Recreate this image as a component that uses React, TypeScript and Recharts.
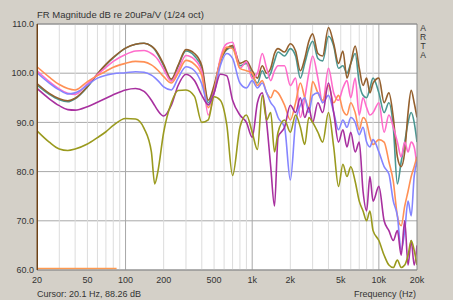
import { LineChart, Line, XAxis, YAxis, CartesianGrid, ReferenceLine } from "recharts";

// frequency grid (Hz)
const freqs = [
  20, 25, 30, 35, 40, 50, 60, 70, 80, 100, 120, 140, 160, 170, 180, 200, 230, 260, 300, 350, 400, 450, 500, 560,
  630, 700, 800, 900, 1000, 1100, 1200, 1300, 1400, 1500, 1600, 1800, 2000, 2200, 2400, 2600, 2800, 3000, 3300,
  3600, 4000, 4400, 4800, 5200, 5600, 6000, 6500, 7000, 7500, 8000, 8500, 9000, 10000, 11000, 12000, 13000,
  14000, 15000, 16000, 17000, 18000, 19000, 20000,
];

const teal = [
  97.6, 95.7, 94.6, 94.2, 94.8, 97.2, 99.8, 101.7, 103.1, 105.1, 105.9, 106.1, 105.5, 104.8, 103.8, 101.5, 98.5,
  101.4, 104.5, 103.5, 101.0, 94.0, 97.0, 102.3, 104.8, 105.3, 101.5, 102.0, 99.5, 98.0, 100.5, 99.0, 100.0, 102.5,
  104.3, 103.5, 105.0, 103.5, 99.0, 102.0, 105.0, 106.5, 103.0, 102.5, 107.5, 105.5, 101.0, 101.5, 100.0, 102.0,
  104.0, 98.0, 95.5, 95.0, 97.0, 99.0, 96.0, 92.0, 94.0, 89.0, 77.5, 82.0, 86.0, 90.0, 92.0, 90.0, 86.0,
];

const brown = [
  97.9, 95.9, 94.8, 94.4, 94.9, 97.3, 99.9, 101.8, 103.2, 105.1, 105.9, 106.1, 105.5, 104.9, 104.0, 101.8, 98.8,
  101.6, 104.8, 104.0, 101.5, 94.5, 97.5, 102.5, 105.0, 105.6, 102.0, 102.5, 100.5, 99.0, 101.5, 100.0, 101.0, 104.0,
  105.0, 104.3, 106.0, 104.5, 100.5, 103.0, 106.5, 108.0, 104.0, 103.5, 109.3, 106.0, 102.0, 104.5, 99.0, 102.0,
  105.5, 101.0, 97.5, 99.0, 96.0, 98.0, 99.0, 94.0, 96.0, 91.0, 83.0, 81.0, 84.0, 92.0, 96.5, 94.0, 91.0,
];

const pink = [
  100.5, 98.3, 96.8, 95.9, 95.7, 97.9, 99.7, 101.2, 102.4, 103.8, 104.5, 104.6, 104.0, 103.5, 102.8, 100.8, 98.4,
  100.6, 103.6, 102.8, 100.3, 91.5, 96.0, 103.0, 106.0, 106.3, 101.0, 102.3, 99.0, 100.0, 104.0, 101.0, 98.5, 100.5,
  101.5, 101.5, 97.5, 99.0, 91.0, 95.0, 100.0, 103.5, 99.0, 94.0, 101.0, 96.0, 94.5, 97.0, 98.5, 95.0, 99.0, 91.5,
  95.0, 93.0, 91.5, 92.0, 94.0, 88.0, 91.5, 89.0, 86.0, 83.0, 86.0, 84.0, 86.0, 85.0, 81.0,
];

const orange = [
  101.3, 99.2, 97.7, 96.9, 96.6, 98.3, 99.5, 100.4, 101.2, 102.0, 102.4, 102.3, 101.7, 101.2, 100.6, 99.3, 98.0,
  100.0, 102.6, 101.8, 99.5, 93.0, 96.5, 102.5, 105.3, 105.0, 101.0, 100.5, 100.0, 97.5, 98.5, 96.0, 95.0, 96.5,
  96.0, 93.5, 90.5, 94.0, 98.0, 95.0, 93.0, 98.3, 96.0, 94.5, 97.5, 94.0, 95.5, 92.5, 91.5, 94.0, 92.0, 88.5, 91.0,
  90.0, 87.0, 85.5, 86.5, 86.0, 82.0, 78.0, 71.0, 69.0, 73.0, 76.0, 79.0, 81.0, 83.0,
];

const blue = [
  100.1, 98.0, 96.6, 95.8, 96.0, 97.6, 99.0, 99.6, 99.9, 100.1, 100.3, 100.2, 99.6, 99.1, 98.5, 97.2, 96.6, 99.0,
  101.3, 100.5, 97.8, 93.5, 96.0, 101.5, 104.0, 103.0, 98.0, 97.0, 98.5, 97.0, 98.0, 96.0, 94.0, 93.0, 91.0, 89.0,
  78.3, 90.0, 93.5, 95.0, 92.0, 95.5, 96.0, 94.0, 95.5, 92.0, 88.5, 90.5, 89.0, 91.0, 90.0, 87.5, 89.0, 86.0, 85.0,
  86.5, 84.0, 81.0, 79.5, 74.0, 71.0, 64.0, 68.0, 74.0, 71.0, 79.0, 82.0,
];

const purple = [
  96.9, 94.8, 93.4, 92.6, 92.5, 93.2, 94.1, 94.9, 95.6, 96.6, 96.9, 96.3, 94.5, 93.4, 92.4, 91.3, 93.5, 97.5, 99.8,
  98.5, 95.5, 93.6, 96.0, 99.8, 99.5, 94.5, 91.5, 90.0, 87.0, 94.0, 96.0, 90.0, 81.0, 73.0, 87.0, 89.0, 93.5, 92.0,
  95.0, 91.0, 93.0, 90.0, 94.0, 92.0, 98.0, 92.0, 86.0, 88.5, 85.0, 88.0, 84.0, 86.0, 76.0, 72.0, 79.0, 74.0, 77.0,
  70.0, 68.0, 66.0, 68.0, 63.0, 70.0, 61.0, 66.0, 61.0, 65.0,
];

const olive = [
  88.3, 86.0, 84.6, 84.3, 84.6, 85.6, 86.9, 88.1, 89.4, 90.8, 90.7, 88.8, 84.0, 77.5, 80.0, 88.0, 94.0, 96.5, 96.6,
  95.3, 90.0, 90.5, 95.2, 94.5, 89.5, 79.2, 89.0, 91.5, 88.0, 84.5, 95.5, 90.5, 92.0, 84.0, 88.0, 90.5, 88.0, 91.5,
  89.0, 85.5, 91.0, 90.0, 88.0, 86.0, 92.0, 85.0, 77.0, 81.5, 79.0, 81.0, 78.0, 74.0, 72.0, 70.0, 72.0, 68.0, 66.0,
  63.0, 61.0, 60.5, 62.0, 60.5, 61.0, 63.0, 66.0, 64.0, 61.0,
];

// orange level marker along the bottom
const markerFreqs = [20, 85];
const markerLevel = [60.3, 60.3];

const xTicks = [20, 50, 100, 200, 500, 1000, 2000, 5000, 10000, 20000];
const yTicks = [60, 70, 80, 90, 100, 110];
const minorGrid = [
  30, 40, 50, 60, 70, 80, 90, 200, 300, 400, 500, 600, 700, 800, 900, 2000, 3000, 4000, 5000, 6000, 7000, 8000,
  9000,
];
const majorGrid = [100, 1000, 10000];

const series = [
  { key: "teal", color: "#4a9792" },
  { key: "brown", color: "#94602e" },
  { key: "pink", color: "#ff6ccb" },
  { key: "orange", color: "#ff9055" },
  { key: "blue", color: "#8585ff" },
  { key: "purple", color: "#a8309f" },
  { key: "olive", color: "#9a9a1e" },
];

const data = freqs.map((f, i) => ({
  f,
  teal: teal[i],
  brown: brown[i],
  pink: pink[i],
  orange: orange[i],
  blue: blue[i],
  purple: purple[i],
  olive: olive[i],
}));

const marker = markerFreqs.map((f, i) => ({ f, v: markerLevel[i] }));

const FONT = "'Liberation Sans', Arial, sans-serif";
const TXT = "#333";

const fmtHz = (v: number) => (v >= 1000 ? `${v / 1000}k` : `${v}`);

export default function App() {
  return (
    <div style={{ position: "absolute", left: 0, top: 0, width: 453, height: 300, background: "#d4d0c8" }}>
      <LineChart width={453} height={300} data={data} margin={{ top: 24, right: 36, bottom: 0, left: 0 }}>
        <CartesianGrid vertical={false} fill="#ffffff" stroke="#a8a8a8" />
        {minorGrid.map((g) => (
          <ReferenceLine key={`mi${g}`} x={g} stroke="#dcdcdc" />
        ))}
        {majorGrid.map((g) => (
          <ReferenceLine key={`ma${g}`} x={g} stroke="#a8a8a8" />
        ))}
        <XAxis
          dataKey="f"
          type="number"
          scale="log"
          domain={[20, 20000]}
          allowDataOverflow
          ticks={xTicks}
          tickFormatter={fmtHz}
          height={30}
          axisLine={false}
          tickLine={false}
          tickSize={1}
          tickMargin={6}
          tick={{ fontSize: 9, fill: TXT, fontFamily: FONT }}
        />
        <YAxis
          type="number"
          domain={[60, 110]}
          allowDataOverflow
          ticks={yTicks}
          tickFormatter={(v: number) => v.toFixed(1)}
          width={37}
          axisLine={false}
          tickLine={false}
          tickSize={1}
          tickMargin={2}
          tick={{ fontSize: 9, fill: TXT, fontFamily: FONT }}
        />
        {series.map((s) => (
          <Line
            key={s.key}
            dataKey={s.key}
            type="monotone"
            stroke={s.color}
            strokeWidth={1.6}
            dot={false}
            isAnimationActive={false}
          />
        ))}
        <Line
          data={marker}
          dataKey="v"
          type="linear"
          stroke="#ff9a50"
          strokeWidth={1.5}
          dot={false}
          isAnimationActive={false}
        />
        <ReferenceLine y={110} stroke="#8a8a8a" />
        <ReferenceLine y={60} stroke="#8a8a8a" />
        <ReferenceLine x={20000} stroke="#8a8a8a" />
        <ReferenceLine x={20.1} stroke="#6e4216" strokeWidth={1.5} />
      </LineChart>
      <svg width={453} height={300} style={{ position: "absolute", left: 0, top: 0, pointerEvents: "none" }}>
        <text x={37} y={18} fontSize={9.5} fill={TXT} fontFamily={FONT}>
          FR Magnitude dB re 20uPa/V (1/24 oct)
        </text>
        <text x={37} y={297} fontSize={9} fill={TXT} fontFamily={FONT}>
          Cursor: 20.1 Hz, 88.26 dB
        </text>
        <text x={416} y={297} fontSize={9} fill={TXT} fontFamily={FONT} textAnchor="end">
          Frequency (Hz)
        </text>
        {["A", "R", "T", "A"].map((c, i) => (
          <text key={i} x={423} y={31 + i * 9} fontSize={8.5} fill={TXT} fontFamily={FONT} textAnchor="middle">
            {c}
          </text>
        ))}
      </svg>
    </div>
  );
}
